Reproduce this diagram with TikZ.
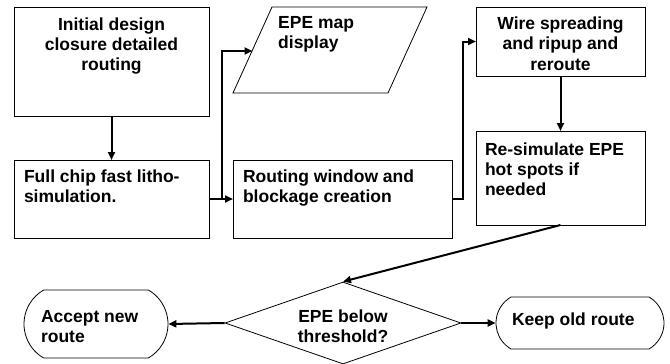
\documentclass[tikz,border=0pt]{standalone}
\usepackage{fontspec}
\setmainfont{Liberation Sans}
\usetikzlibrary{arrows.meta,shapes.geometric,shapes.misc,calc}
\newcommand\bx[5]{\parbox[c][#2][t]{#1}{#4\vspace*{#3}\strut #5}}
\begin{document}
\begin{tikzpicture}[x=1pt,y=-1pt,
  every node/.style={font=\fontsize{17.5}{20}\selectfont\bfseries},
  rect/.style={draw, line width=0.8pt, inner sep=0pt, outer sep=0pt},
  outline/.style={draw, line width=0.8pt},
  arr/.style={line width=2pt, -{Triangle[length=8pt,width=7pt]}}]
\useasboundingbox (0,0) rectangle (670,364);
% boxes
\node[rect] (b1) at (111.5,61.5) {\bx{195pt}{109pt}{9pt}{\centering}{Initial design\\closure detailed\\routing}};
\node[rect] (b2) at (111.5,199) {\bx{195pt}{78pt}{8pt}{\raggedright\leftskip=10pt}{Full chip fast litho-\\simulation.}};
\node[rect] (b3) at (342.5,199) {\bx{219pt}{78pt}{8pt}{\raggedright\leftskip=10pt}{Routing window and\\blockage creation}};
\node[rect] (b4) at (560.5,41.5) {\bx{169pt}{69pt}{9pt}{\centering}{Wire spreading\\and ripup and\\reroute}};
\node[rect] (b5) at (560.5,178) {\bx{169pt}{94pt}{10pt}{\raggedright\leftskip=9pt}{Re-simulate EPE\\hot spots if\\needed}};
% parallelogram
\draw[outline] (272,7) -- (427,7) -- (388,93) -- (233,93) -- cycle;
\coordinate (paraL) at (252.5,51);
\node[inner sep=0pt, anchor=north west] (para) at (278,7) {\bx{140pt}{80pt}{7pt}{\raggedright}{EPE map\\display}};
% decision
\node[diamond, draw, line width=0.8pt, inner sep=0pt, aspect=2.9, minimum width=236pt, minimum height=82pt] (dec) at (343,323) {\bx{92pt}{40pt}{5pt}{\centering}{EPE below\\threshold?}};
\node[rounded rectangle, rounded rectangle arc length=120, draw, line width=0.8pt, inner sep=0pt, minimum width=144pt, minimum height=68pt] (acc) at (96,324) {\bx{100pt}{40pt}{4pt}{\raggedright\leftskip=-5pt}{Accept new\\route}};
\node[rounded rectangle, rounded rectangle arc length=120, draw, line width=0.8pt, inner sep=0pt, minimum width=168pt, minimum height=52pt] (keep) at (580,323) {\bx{124pt}{20pt}{-2pt}{\raggedright\leftskip=-6pt}{Keep old route}};
% connectors
\draw[arr] (b1) -- (b2);
\draw[arr] (b2) -- (b3);
\coordinate (j1) at ($(b2.east)+(13,0)$);
\draw[arr] (j1) |- (paraL);
\draw[arr] (b3.east) -- ++(11,0) |- (b4.west);
\draw[arr] (b4) -- (b5);
\draw[arr] (b5.south) -- (dec.north);
\draw[arr] (dec.west) -- (acc.east);
\draw[arr] (dec.east) -- (keep.west);
\end{tikzpicture}
\end{document}
